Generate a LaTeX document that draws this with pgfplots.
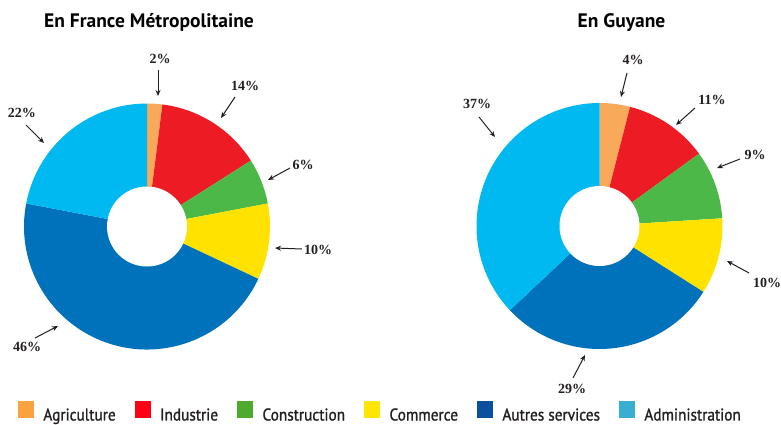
\documentclass[border=0pt]{standalone}
\usepackage{fontspec}
\setmainfont{PT Sans}
\newfontfamily\legfont[FakeStretch=0.9,FakeBold=1.2]{PT Sans}
\newfontfamily\pctfont{Liberation Serif}
\usepackage{pgfplots}
\usepackage{pgfplotstable}
\pgfplotsset{compat=1.18}
\usetikzlibrary{arrows.meta}

% slice colours
\definecolor{cAgri}{HTML}{F8AA5A}
\definecolor{cInd}{HTML}{ED1C24}
\definecolor{cCons}{HTML}{4CB848}
\definecolor{cComm}{HTML}{FFE200}
\definecolor{cAutres}{HTML}{0072BB}
\definecolor{cAdmin}{HTML}{00B9F0}
% legend colours
\definecolor{lAgri}{HTML}{F9A23E}
\definecolor{lInd}{HTML}{FF0016}
\definecolor{lCons}{HTML}{4DAA2C}
\definecolor{lComm}{HTML}{FFE500}
\definecolor{lAutres}{HTML}{0B4F9F}
\definecolor{lAdmin}{HTML}{38AFD2}
\definecolor{txt}{HTML}{231F20}

\pgfplotstableread{
secteur part couleur
Agriculture 2 cAgri
Industrie 14 cInd
Construction 6 cCons
Commerce 10 cComm
AutresServices 46 cAutres
Administration 22 cAdmin
}\france

\pgfplotstableread{
secteur part couleur
Agriculture 4 cAgri
Industrie 11 cInd
Construction 9 cCons
Commerce 10 cComm
AutresServices 29 cAutres
Administration 37 cAdmin
}\guyane

% donut: table, centre x, centre y (clockwise from the top)
\newcommand\donut[3]{%
  \pgfplotstablegetrowsof{#1}%
  \pgfmathtruncatemacro\lastrow{\pgfplotsretval-1}%
  \def\startang{90}%
  \pgfplotsforeachungrouped \r in {0,...,\lastrow}{%
    \pgfplotstablegetelem{\r}{couleur}\of{#1}\let\slicecol\pgfplotsretval
    \pgfplotstablegetelem{\r}{part}\of{#1}%
    \pgfmathsetmacro\endang{\startang-3.6*\pgfplotsretval}%
    \edef\slice{\noexpand\fill[\slicecol] (axis cs:#2,#3) -- ++(\startang:123pt)
      arc[start angle=\startang, end angle=\endang, radius=123pt] -- cycle;}%
    \slice
    \let\startang\endang
  }%
  \fill[white] (axis cs:#2,#3) circle[radius=40pt];
}

\tikzset{
  pct/.style={font=\pctfont\bfseries\fontsize{14}{14}\selectfont, text=txt,
    inner sep=0pt, text height=9.5pt, text depth=0pt},
  arr/.style={txt, line width=1pt, -{Stealth[length=6pt,width=5pt]}},
  ttl/.style={font=\bfseries\fontsize{19.5}{19.5}\selectfont, anchor=base, text=black}
}

\begin{document}
\begin{tikzpicture}
\begin{axis}[
    width=781pt, height=424pt, scale only axis,
    xmin=0, xmax=781, ymin=0, ymax=424,
    hide axis, clip=false,
    legend columns=6,
    legend image code/.code={\fill[#1] (0pt,-2pt) rectangle (15pt,14pt);},
    legend style={
      at={(axis cs:18,2)}, anchor=south west,
      draw=none, fill=none, inner sep=0pt, outer sep=0pt,
      font=\legfont\fontsize{17}{17}\selectfont, text=txt,
      nodes={inner sep=0pt},
      /tikz/every odd column/.append style={column sep=10pt},
      /tikz/every even column/.append style={column sep=19pt},
    },
  ]
  \path (axis cs:0,0) rectangle (axis cs:781,424);

  \donut{\france}{147}{197.5}
  \donut{\guyane}{599.5}{198}

  \node[ttl] at (axis cs:149,396) {En France Métropolitaine};
  \node[ttl] at (axis cs:621.5,396) {En Guyane};

  % France labels
  \node[pct] at (axis cs:160,365) {2\%};
  \draw[arr] (axis cs:158,354) -- (axis cs:158,328);
  \node[pct] at (axis cs:245,338) {14\%};
  \draw[arr] (axis cs:235,327) -- (axis cs:221,306);
  \node[pct] at (axis cs:22,311) {22\%};
  \draw[arr] (axis cs:26,299) -- (axis cs:44,281);
  \node[pct] at (axis cs:303,259) {6\%};
  \draw[arr] (axis cs:290,256) -- (axis cs:268,244);
  \node[pct] at (axis cs:318,174) {10\%};
  \draw[arr] (axis cs:302,175) -- (axis cs:275,176);
  \node[pct] at (axis cs:27,77) {46\%};
  \draw[arr] (axis cs:35,86) -- (axis cs:58,98);

  % Guyane labels
  \node[pct] at (axis cs:633,364) {4\%};
  \draw[arr] (axis cs:627,351) -- (axis cs:621,327);
  \node[pct] at (axis cs:712,324) {11\%};
  \draw[arr] (axis cs:695,316) -- (axis cs:676,299);
  \node[pct] at (axis cs:477,320) {37\%};
  \draw[arr] (axis cs:479,307) -- (axis cs:495,287);
  \node[pct] at (axis cs:755,269) {9\%};
  \draw[arr] (axis cs:740,265) -- (axis cs:717,256);
  \node[pct] at (axis cs:767,141) {10\%};
  \draw[arr] (axis cs:749,151) -- (axis cs:727,163);
  \node[pct] at (axis cs:572,35) {29\%};
  \draw[arr] (axis cs:573,46) -- (axis cs:585,69);

  \addlegendimage{lAgri}\addlegendentry{Agriculture}
  \addlegendimage{lInd}\addlegendentry{Industrie}
  \addlegendimage{lCons}\addlegendentry{Construction}
  \addlegendimage{lComm}\addlegendentry{Commerce}
  \addlegendimage{lAutres}\addlegendentry{Autres services}
  \addlegendimage{lAdmin}\addlegendentry{Administration}
\end{axis}
\end{tikzpicture}
\end{document}
